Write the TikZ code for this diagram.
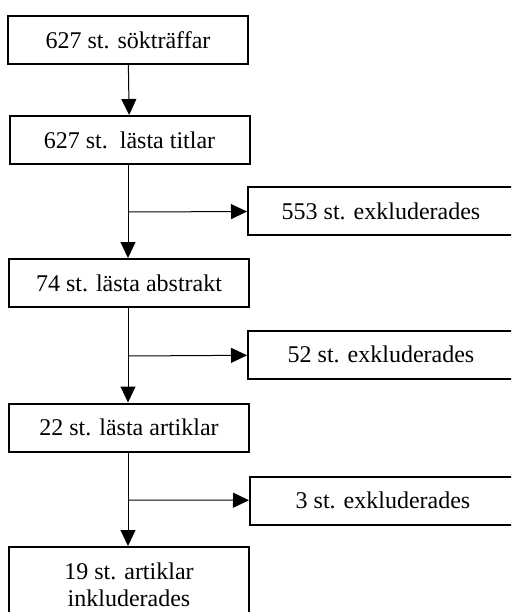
\documentclass[tikz,border=0pt]{standalone}
\usepackage{fontspec}
\setmainfont{Liberation Serif}
\usetikzlibrary{arrows.meta}

\begin{document}
\begin{tikzpicture}[x=1pt,y=-1pt,
  box/.style={draw, rectangle, line width=2pt, minimum width=240pt, minimum height=48pt, inner sep=0pt, font=\fontsize{24}{27}\selectfont, align=center},
  ut/.style={box, minimum width=266pt, minimum height=48pt},
  pil/.style={line width=1pt, -{Triangle[length=16pt,width=15pt]}}]
\clip (0,0) rectangle (511,612);

\node[box] (S) at (128,40) {627 st. sökträffar};
\node[box] (T) at (129.5,140) {627 st.\ \ lästa titlar};
\node[box] (A) at (129,283) {74 st. lästa abstrakt};
\node[box] (R) at (129,427.5) {22 st. lästa artiklar};
\node[box, minimum height=76pt] (I) at (129,585) {19 st. artiklar\\inkluderades};

\node[ut] (X1) at (381,211) {553 st. exkluderades};
\node[ut] (X2) at (381,354.5) {52 st. exkluderades};
\node[ut] (X3) at (383,500.5) {3 st. exkluderades};

\coordinate (k1) at (128,212);
\coordinate (k2) at (128,356);
\coordinate (k3) at (128,500);

\draw[pil] (S) -- (T);
\draw[pil] (T.south -| k1) -- (A.north -| k1);
\draw[pil] (A.south -| k2) -- (R.north -| k2);
\draw[pil] (R.south -| k3) -- (I.north -| k3);

\draw[pil] (k1) -- (X1);
\draw[pil] (k2) -- (X2);
\draw[pil] (k3) -- (X3);
\end{tikzpicture}
\end{document}
